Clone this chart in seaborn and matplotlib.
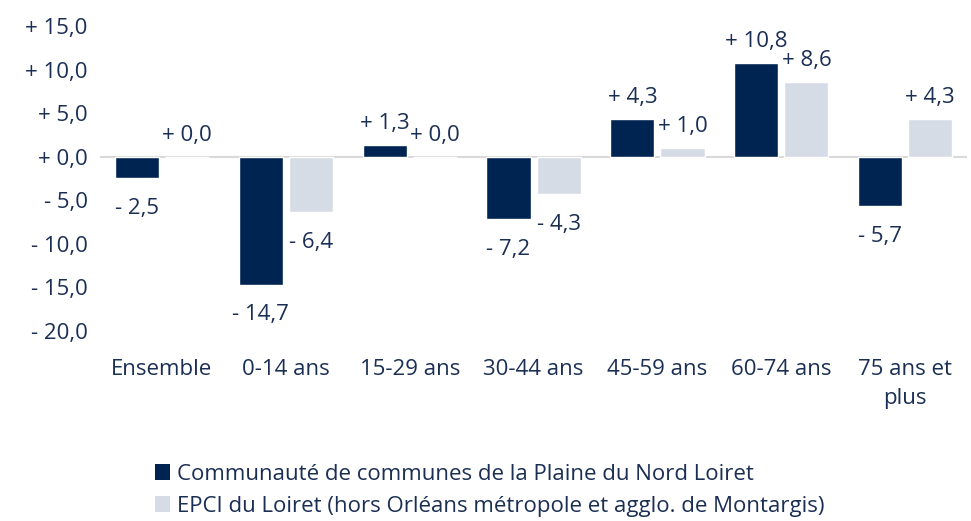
import matplotlib
matplotlib.use("Agg")
import matplotlib.pyplot as plt
import seaborn as sns
import pandas as pd
from matplotlib.patches import Patch

categories = ["Ensemble", "0-14 ans", "15-29 ans", "30-44 ans", "45-59 ans", "60-74 ans", "75 ans et\nplus"]
series_names = ["Communauté de communes de la Plaine du Nord Loiret",
                "EPCI du Loiret (hors Orléans métropole et agglo. de Montargis)"]
cc_values = [-2.5, -14.7, 1.3, -7.2, 4.3, 10.8, -5.7]
epci_values = [0.0, -6.4, 0.0, -4.3, 1.0, 8.6, 4.3]
y_ticks = [15, 10, 5, 0, -5, -10, -15, -20]

colors = ["#002451", "#d6dce5"]
text_color = "#1b2f55"
FS = 16

df = pd.DataFrame({
    "cat": categories * 2,
    "serie": [series_names[0]] * len(categories) + [series_names[1]] * len(categories),
    "val": cc_values + epci_values,
})

sns.set_theme(style="white")
plt.rcParams["font.family"] = ["Open Sans", "DejaVu Sans"]

fig = plt.figure(figsize=(9.71, 5.21), dpi=100)
ax = fig.add_axes([0.103, 0.365, 0.893, 0.585])

sns.barplot(data=df, x="cat", y="val", hue="serie", palette=colors,
            width=0.81, gap=0.12, ax=ax, legend=False, saturation=1)

def fmt(v):
    s = f"{abs(v):.1f}".replace(".", ",")
    return ("- " if v < 0 else "+ ") + s

for cont, vals in zip(ax.containers, [cc_values, epci_values]):
    for bar, v in zip(cont, vals):
        x = bar.get_x() + bar.get_width() / 2
        if v < 0:
            ax.annotate(fmt(v), (x, v), xytext=(0, -14), textcoords="offset points",
                        ha="center", va="top", fontsize=FS, color=text_color)
        else:
            ax.annotate(fmt(v), (x, v), xytext=(0, 8), textcoords="offset points",
                        ha="center", va="bottom", fontsize=FS, color=text_color)

ax.set_ylim(-20, 15)
ax.set_yticks(y_ticks)
ax.set_yticklabels([fmt(v) for v in y_ticks])
ax.axhline(0, color="#d9d9d9", lw=1.5, zorder=0)
for s in ax.spines.values():
    s.set_visible(False)
ax.set_xlabel("")
ax.set_ylabel("")
ax.tick_params(axis="x", length=0, pad=20, labelsize=FS, labelcolor=text_color)
ax.tick_params(axis="y", length=0, pad=9, labelsize=FS, labelcolor=text_color)
for t in ax.get_xticklabels():
    t.set_linespacing(1.55)
ax.set_xlim(-0.5, len(categories) - 0.5)

handles = [Patch(facecolor=c, edgecolor="none") for c in colors]
fig.legend(handles, series_names, loc="upper left", bbox_to_anchor=(0.160, 0.110),
           frameon=False, fontsize=FS, labelcolor=text_color,
           handlelength=0.68, handleheight=0.68, handletextpad=0.3, labelspacing=0.5,
           borderaxespad=0, borderpad=0)

fig.savefig("out.png", dpi=100)
